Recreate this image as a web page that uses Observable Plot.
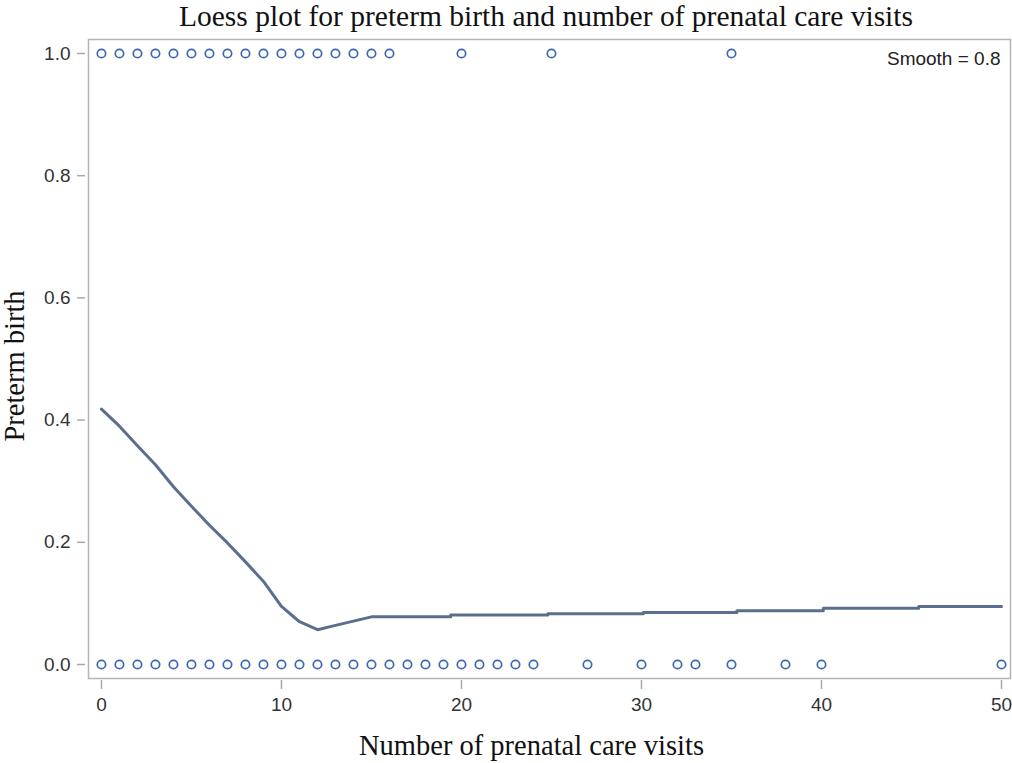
<!DOCTYPE html>
<html>
<head>
<meta charset="utf-8">
<script src="https://cdn.jsdelivr.net/npm/d3@7"></script>
<script src="https://cdn.jsdelivr.net/npm/@observablehq/plot@0.6"></script>
<style>
  html, body { margin: 0; padding: 0; background: #fff; }
  #title { height: 32px; line-height: 32px; padding-left: 80px; width: 932px; text-align: center;
           font-family: "Liberation Serif", serif; font-size: 29.5px; color: #111; white-space: nowrap; overflow: visible; }
</style>
</head>
<body>
<div id="title">Loess plot for preterm birth and number of prenatal care visits</div>
<div id="chart"></div>
<script>
// Observed data: preterm birth = 1
const visitsPreterm1 = [0,1,2,3,4,5,6,7,8,9,10,11,12,13,14,15,16,20,25,35];
// Observed data: preterm birth = 0
const visitsPreterm0 = [0,1,2,3,4,5,6,7,8,9,10,11,12,13,14,15,16,17,18,19,20,21,22,23,24,27,30,32,33,35,38,40,50];
// Loess fit (smooth = 0.8)
const loessX = [0,1,2,3,4,5,6,7,8,9,10,11,12,13,14,15,19.4,19.4,24.8,24.8,30.1,30.1,35.3,35.3,40.1,40.1,45.4,45.4,50];
const loessY = [0.418,0.390,0.358,0.327,0.291,0.259,0.228,0.199,0.168,0.136,0.095,0.070,0.057,0.064,0.071,0.078,0.078,0.081,0.081,0.083,0.083,0.085,0.085,0.088,0.088,0.092,0.092,0.095,0.095];
const xTicks = [0,10,20,30,40,50];
const yTicks = [0,0.2,0.4,0.6,0.8,1.0];
const xLabel = "Number of prenatal care visits";
const yLabel = "Preterm birth";
const smoothNote = "Smooth = 0.8";

const points = [
  ...visitsPreterm1.map(v => ({visits: v, preterm: 1})),
  ...visitsPreterm0.map(v => ({visits: v, preterm: 0}))
];
const loess = loessX.map((x, i) => ({visits: x, fit: loessY[i]}));

const sans = "Liberation Sans, Arial, sans-serif";
const serif = "Liberation Serif, serif";

const chart = Plot.plot({
  width: 1012,
  height: 731,
  marginLeft: 88,
  marginRight: 2,
  marginTop: 7,
  marginBottom: 85,
  style: {fontFamily: sans, background: "#fff", overflow: "visible"},
  x: {domain: [-0.72, 50.5]},
  y: {domain: [-0.0229, 1.0229]},
  marks: [
    Plot.frame({stroke: "#b4b4b4", strokeWidth: 1.5}),
    Plot.axisX({ticks: xTicks, tickSize: 9, dy: 2, tickPadding: 8, stroke: "#a8a8a8", strokeWidth: 1.5,
      fill: "#333", fontSize: 19, label: null, tickFormat: d => d}),
    Plot.axisY({ticks: yTicks, tickSize: 8, dx: -3, tickPadding: 7, stroke: "#a8a8a8", strokeWidth: 1.5,
      fill: "#333", fontSize: 19, label: null, tickFormat: d3.format(".1f")}),
    Plot.line(loess, {x: "visits", y: "fit", stroke: "#5a6f8e", strokeWidth: 3}),
    Plot.dot(points, {x: "visits", y: "preterm", r: 4.2, stroke: "#3d67b3", strokeWidth: 1.7, fill: "none"}),
    Plot.text([smoothNote], {frameAnchor: "top-right", text: d => d, textAnchor: "end", lineAnchor: "middle",
      dx: -10, dy: 19, fontSize: 19, fill: "#222", fontFamily: sans}),
    Plot.text([xLabel], {frameAnchor: "bottom", text: d => d, textAnchor: "middle", lineAnchor: "middle",
      dx: -18, dy: 67, fontSize: 28.5, fontFamily: serif, fill: "#111"}),
    Plot.text([yLabel], {frameAnchor: "left", text: d => d, textAnchor: "middle", lineAnchor: "middle",
      rotate: -90, dx: -74, dy: 7, fontSize: 28.5, fontFamily: serif, fill: "#111"})
  ]
});
document.getElementById("chart").appendChild(chart);
</script>
</body>
</html>
